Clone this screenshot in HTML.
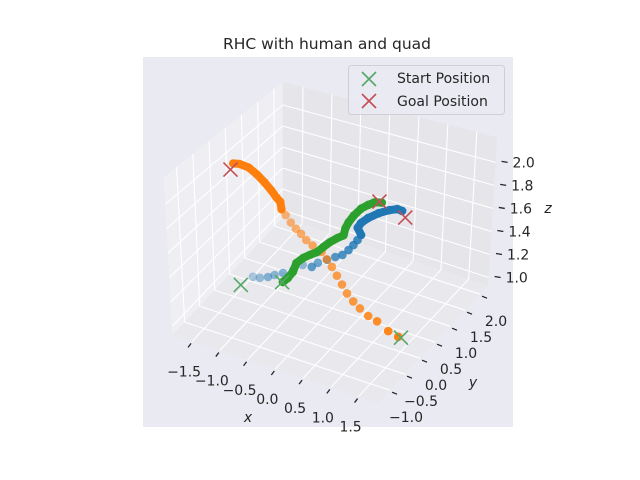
<!DOCTYPE html>
<html><head><meta charset="utf-8"><style>
html,body{margin:0;padding:0;background:#fff;}
svg{display:block;font-family:"DejaVu Sans","Liberation Sans",sans-serif;}
</style></head><body>
<svg id="chart" width="640" height="480" viewBox="0 0 640 480">
<rect x="0" y="0" width="640" height="480" fill="#ffffff"/>
<rect x="143" y="57" width="370" height="370" fill="#eaeaf2"/>
<text x="327" y="49" text-anchor="middle" font-size="15.5" fill="#262626">RHC with human and quad</text>
<g id="panes"></g>
<g id="grid"></g>
<g id="ticks"></g>
<g id="series"></g>
<g id="markers"></g>
<g>
<rect x="348.5" y="65.5" width="156" height="49" rx="3" fill="#eaeaf2" fill-opacity="0.8" stroke="#cfcfd6"/>
<g>
<path d="M362,72 L376,86 M376,72 L362,86" stroke="#55a868" stroke-width="1.6"/>
<text x="397" y="83" font-size="14" fill="#262626">Start Position</text>
</g>
<g>
<path d="M362,94 L376,108 M376,94 L362,108" stroke="#c44e52" stroke-width="1.6"/>
<text x="397" y="106" font-size="14" fill="#262626">Goal Position</text>
</g>
</g>
<text x="248" y="422" font-size="14" font-style="italic" fill="#262626" text-anchor="middle">x</text>
<text x="473" y="387" font-size="14" font-style="italic" fill="#262626" text-anchor="middle">y</text>
<text x="548" y="213" font-size="14" font-style="italic" fill="#262626" text-anchor="middle">z</text>
</svg>
<script>
const xTicks=[-1.5,-1.0,-0.5,0.0,0.5,1.0,1.5];
const yTicks=[-1.0,-0.5,0.0,0.5,1.0,1.5,2.0];
const zTicks=[1.0,1.2,1.4,1.6,1.8,2.0];
const xTickLabels=["−1.5","−1.0","−0.5","0.0","0.5","1.0","1.5"];
const yTickLabels=["−1.0","−0.5","0.0","0.5","1.0","1.5","2.0"];
const zTickLabels=["1.0","1.2","1.4","1.6","1.8","2.0"];
const xRange=[-1.85,1.85], yRange=[-1.4,2.27], zRange=[0.93,2.22];

const blueX=[-1.39,-1.28,-1.15,-1.07,-0.95,-0.82,-0.71,-0.53,-0.47,-0.34,-0.22,-0.12,-0.04,0.02,0.07,0.11,0.06,0.10,0.19,0.31,0.44,0.55,0.64];
const blueY=[0.43,0.46,0.49,0.56,0.62,0.72,0.83,0.80,0.89,0.95,1.00,1.05,1.10,1.15,1.19,1.23,1.21,1.24,1.30,1.42,1.52,1.58,1.57];
const blueZ=[1.00,1.00,1.02,1.03,1.05,1.07,1.10,1.12,1.14,1.17,1.20,1.22,1.26,1.30,1.34,1.38,1.44,1.48,1.52,1.55,1.57,1.58,1.58];

const orangeX=[1.40,1.22,1.02,0.86,0.71,0.59,0.48,0.39,0.30,0.21,0.12,0.03,-0.13,-0.24,-0.33,-0.42,-0.51,-0.60,-0.67,-0.69,-0.76,-0.85,-0.96,-1.09,-1.23,-1.39,-1.50];
const orangeY=[0.1,0.1,0.1,0.1,0.1,0.1,0.1,0.1,0.1,0.1,0.1,0.1,0.1,0.1,0.1,0.1,0.1,0.1,0.1,0.1,0.1,0.1,0.1,0.1,0.1,0.1,0.1];
const orangeZ=[1.01,1.03,1.08,1.10,1.14,1.18,1.23,1.29,1.35,1.41,1.46,1.51,1.54,1.57,1.61,1.64,1.68,1.73,1.77,1.83,1.86,1.91,1.96,2.01,2.05,2.06,2.05];

const greenX=[-0.91,-0.85,-0.80,-0.76,-0.69,-0.61,-0.52,-0.44,-0.37,-0.28,-0.20,-0.18,-0.14,-0.07,0.01,0.10,0.18,0.28];
const greenY=[0.54,0.59,0.67,0.72,0.81,0.88,0.95,1.01,1.10,1.17,1.23,1.25,1.28,1.32,1.41,1.47,1.52,1.57];
const greenZ=[1.00,1.03,1.07,1.14,1.17,1.19,1.21,1.25,1.28,1.31,1.33,1.39,1.44,1.50,1.55,1.58,1.60,1.60];

const startX=[-1.45,-0.92,1.45];
const startY=[0.14,0.53,0.10];
const startZ=[1.00,1.00,1.01];
const goalX=[-1.55,0.73,0.25];
const goalY=[0.10,1.51,1.55];
const goalZ=[1.99,1.55,1.61];

const NS="http://www.w3.org/2000/svg";
function P(x,y,z){
  const u=x-xRange[1], v=y-yRange[0], w=z-zRange[0];
  const k=132+2.7*u-4.6*v;
  return [378+55.5*u+30*v+w*1.9*(u+v), 403+18.4*u-32*v-k*w];
}
function mk(tag,attrs,parent){
  const e=document.createElementNS(NS,tag);
  for(const k in attrs) e.setAttribute(k,attrs[k]);
  parent.appendChild(e);
  return e;
}
function poly(pts){return pts.map(p=>p[0].toFixed(1)+","+p[1].toFixed(1)).join(" ");}
const [x0,x1]=xRange,[y0,y1]=yRange,[z0,z1]=zRange;
const panes=document.getElementById('panes');
let el;
el=mk('polygon',{points:poly([P(x0,y0,z0),P(x1,y0,z0),P(x1,y1,z0),P(x0,y1,z0)]),fill:'#e8e8ed'},panes);


el=mk('polygon',{points:poly([P(x0,y0,z0),P(x0,y1,z0),P(x0,y1,z1),P(x0,y0,z1)]),fill:'#efeff3'},panes);


el=mk('polygon',{points:poly([P(x0,y1,z0),P(x1,y1,z0),P(x1,y1,z1),P(x0,y1,z1)]),fill:'#e5e5ea'},panes);



const grid=document.getElementById('grid');
function gl(a,b,name){
  const l=mk('line',{x1:a[0],y1:a[1],x2:b[0],y2:b[1],stroke:'#ffffff','stroke-width':1.1},grid);
  
  
}
xTicks.forEach(x=>{gl(P(x,y0,z0),P(x,y1,z0),'x-gridline-floor');gl(P(x,y1,z0),P(x,y1,z1),'x-gridline-back');});
yTicks.forEach(y=>{gl(P(x0,y,z0),P(x1,y,z0),'y-gridline-floor');gl(P(x0,y,z0),P(x0,y,z1),'y-gridline-left');});
zTicks.forEach(z=>{gl(P(x0,y0,z),P(x0,y1,z),'z-gridline-left');gl(P(x0,y1,z),P(x1,y1,z),'z-gridline-back');});

const ticks=document.getElementById('ticks');
function tickLine(a,dx1,dy1,dx2,dy2,name){
  const l=mk('line',{x1:a[0]+dx1,y1:a[1]+dy1,x2:a[0]+dx2,y2:a[1]+dy2,stroke:'#262626','stroke-width':1.3},ticks);
  
  
}
function tickText(x,y,s,anchor,name){
  const t=mk('text',{x:x,y:y,'font-size':14,fill:'#262626','text-anchor':anchor},ticks);
  t.textContent=s;
  
  
}
xTicks.forEach((x,i)=>{const p=P(x,y0,z0);tickLine(p,-1,2,-4,6,'x-tick');tickText(p[0]-8,p[1]+35,xTickLabels[i],'middle','x-tick-label');});
yTicks.forEach((y,i)=>{const p=P(x1,y,z0);tickLine(p,2,2,7,4,'y-tick');tickText(p[0]+16,p[1]+32,yTickLabels[i],'middle','y-tick-label');});
zTicks.forEach((z,i)=>{const p=P(x1,y1,z);tickLine(p,6,-1,12,0,'z-tick');tickText(p[0]+17,p[1]+5,zTickLabels[i],'start','z-tick-label');});

const series=document.getElementById('series');
function drawSeries(X,Y,Z,color,denseFrom,name){
  const g=mk('g',{},series);
  
  
  const pts=X.map((x,i)=>P(x,Y[i],Z[i]));
  const d=X.map((x,i)=>0.5*x-0.87*Y[i]+0.5*Z[i]);
  const dmin=Math.min(...d), dmax=Math.max(...d);
  pts.forEach((p,i)=>{
    const a=0.35+0.65*(d[i]-dmin)/((dmax-dmin)||1);
    const c=mk('circle',{cx:p[0].toFixed(1),cy:p[1].toFixed(1),r:4.3,fill:color,'fill-opacity':a.toFixed(2)},g);
    
    
  });
  if(denseFrom<pts.length-1){
    const l=mk('polyline',{points:poly(pts.slice(denseFrom)),fill:'none',stroke:color,'stroke-width':8,'stroke-linecap':'round','stroke-linejoin':'round'},g);
    
    
  }
}
drawSeries(blueX,blueY,blueZ,'#1f77b4',15,'human-trajectory');
drawSeries(orangeX,orangeY,orangeZ,'#ff7f0e',18,'quad-trajectory');
drawSeries(greenX,greenY,greenZ,'#2ca02c',0,'second-trajectory');

const markers=document.getElementById('markers');
function cross(X,Y,Z,color,name){
  X.forEach((x,i)=>{
    const p=P(x,Y[i],Z[i]);
    const s=7;
    const m=mk('path',{d:`M${p[0]-s},${p[1]-s} L${p[0]+s},${p[1]+s} M${p[0]+s},${p[1]-s} L${p[0]-s},${p[1]+s}`,stroke:color,'stroke-width':1.6,fill:'none'},markers);
    
    
  });
}
cross(startX,startY,startZ,'#55a868','start-position-marker');
cross(goalX,goalY,goalZ,'#c44e52','goal-position-marker');
</script>
</body></html>
